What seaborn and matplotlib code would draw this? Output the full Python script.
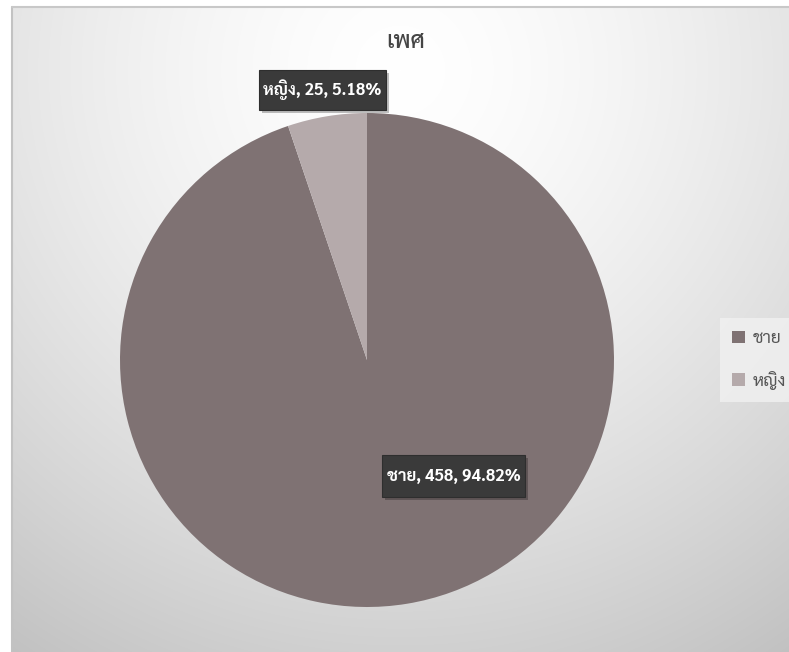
import numpy as np
import matplotlib
matplotlib.use("Agg")
import matplotlib.pyplot as plt
import seaborn as sns
from matplotlib.patches import Patch, Rectangle

# data
categories = ["ชาย", "หญิง"]
counts = [458, 25]
percents = [94.82, 5.18]
colors = ["#7f7273", "#b5aaab"]
title = "เพศ"

sns.set_theme(style="white")
plt.rcParams["font.family"] = ["Sarabun", "DejaVu Sans"]

W, H = 789, 652
fig = plt.figure(figsize=(W / 100, H / 100), dpi=100)

# radial grey background like the spreadsheet chart area
bg = fig.add_axes([0, 0, 1, 1], zorder=-10)
yy, xx = np.mgrid[0:H, 0:W]
d = np.sqrt((xx - 400.0) ** 2 + (yy - 70.0) ** 2)
shade = np.clip(1.0 - 0.10 * (d / 388.0) ** 1.5, 0.76, 1.0)
img = np.dstack([shade, shade, shade])
img[:, :12] = 1.0
img[:6, :] = 1.0
bg.imshow(img, extent=[0, W, H, 0], aspect="auto")
bg.plot([12.5, 12.5], [H, 6.5], color="#c2c2c2", lw=1.5)
bg.plot([12.5, W], [6.5, 6.5], color="#c8c8c8", lw=1.5)
bg.set_xlim(0, W)
bg.set_ylim(H, 0)
bg.axis("off")

# pie area: center (367, 360), radius 247 px
cx, cy, rad = 367, 360, 247
ax = fig.add_axes([(cx - rad) / W, (H - cy - rad) / H, 2 * rad / W, 2 * rad / H])
ax.pie(counts, colors=colors, startangle=90, counterclock=False,
       wedgeprops=dict(linewidth=0))
ax.set_xlim(-1, 1)
ax.set_ylim(-1, 1)
ax.axis("off")

# data labels in dark boxes (box size in pixels: width, height)
label_pos = [(0.351, -0.470), (-0.180, 1.093)]
box_px = [(143, 42), (127, 40)]
for (x, y), (bw, bh), cat, n, p in zip(label_pos, box_px, categories, counts, percents):
    ax.text(x, y, f"{cat}, {n}, {p:.2f}%", ha="center", va="center",
            color="white", fontsize=12, fontweight="bold", zorder=5, clip_on=False)
    w, h = bw / rad, bh / rad
    ax.add_patch(Rectangle((x - w / 2 + 0.012, y - h / 2 - 0.012), w, h,
                           fc="black", alpha=0.25, lw=0, zorder=3, clip_on=False))
    ax.add_patch(Rectangle((x - w / 2, y - h / 2), w, h, fc="#3a3a3a",
                           ec="#2e2e2e", lw=0.8, zorder=4, clip_on=False))

fig.text(406 / W, 1 - 42 / H, title, ha="center", va="center",
         fontsize=17, color="#454545", fontweight="medium")

# legend at right, reaching the figure edge like the original
handles = [Patch(facecolor=c, edgecolor="none") for c in colors]
leg = fig.legend(handles, categories, loc="upper left",
                 bbox_to_anchor=(720 / W, 1 - 318 / H),
                 frameon=True, fontsize=12.5, handlelength=0.72, handleheight=0.72,
                 labelspacing=1.35, handletextpad=0.45, borderpad=0.7,
                 borderaxespad=0)
leg.get_frame().set_facecolor("#f1f1f1")
leg.get_frame().set_edgecolor("none")
leg.get_frame().set_boxstyle("square", pad=0)
for t in leg.get_texts():
    t.set_color("#555555")

fig.savefig("out.png", dpi=100)
